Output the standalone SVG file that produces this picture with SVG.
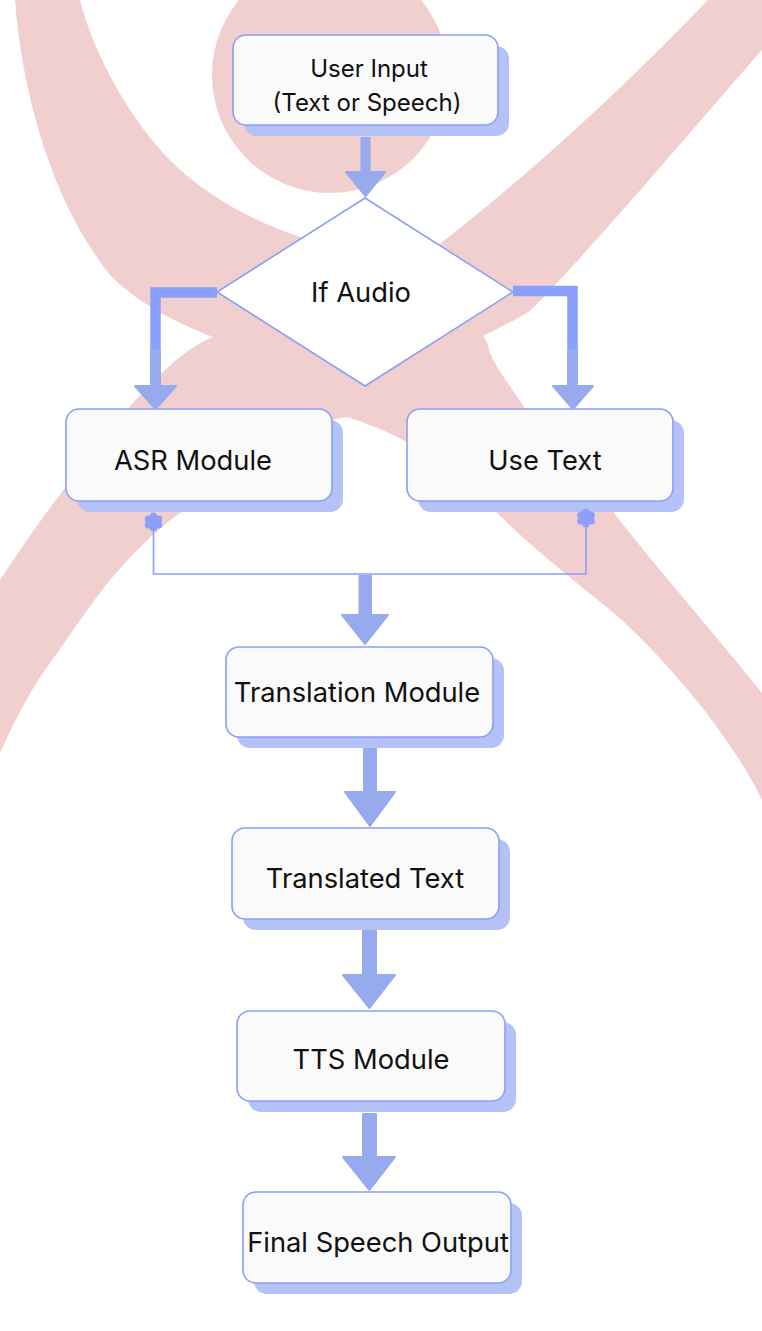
<svg xmlns="http://www.w3.org/2000/svg" width="762" height="1331" viewBox="0 0 762 1331">
<style>
.bg{fill:#f1cfcf;stroke:none}
.box{fill:#fafafa;stroke:#8a9ff6;stroke-width:1.6}
.shadow{fill:#b4c2f8;stroke:none}
.dia{fill:#ffffff;stroke:#8a9ff6;stroke-width:1.6}
.lbl{font-family:Inter,"Noto Sans","DejaVu Sans",sans-serif;font-size:27.3px;fill:#111111;text-anchor:middle}
.lbl2{font-family:Inter,"Noto Sans","DejaVu Sans",sans-serif;font-size:24px;fill:#111111;text-anchor:middle}
.arr{fill:#97aaee;stroke:#97aaee;stroke-width:2;stroke-linejoin:round}
.elbow{fill:none;stroke:#8b9ffd;stroke-width:10.5;stroke-linejoin:miter}
.thin{fill:none;stroke:#8b9ffb;stroke-width:1.6}
.flower{fill:#8b9ffb;stroke:none}
</style>
<defs>
<g id="flower">
<circle cx="0" cy="0" r="6"/>
<circle cx="0" cy="-6" r="3.6"/>
<circle cx="5.2" cy="-3" r="3.6"/>
<circle cx="5.2" cy="3" r="3.6"/>
<circle cx="0" cy="6" r="3.6"/>
<circle cx="-5.2" cy="3" r="3.6"/>
<circle cx="-5.2" cy="-3" r="3.6"/>
</g>
</defs>
<rect x="0" y="0" width="762" height="1331" fill="#ffffff"/>
<g id="background">
<circle class="bg" cx="330" cy="75" r="118"/>
<path class="bg" d="M15,-5 L15,0 C22,90 50,200 110,275 C140,305 175,322 213,337 C260,358 300,405 346,417 C375,425 440,450 494,510 C540,555 580,585 614,613 C650,645 690,690 714,723 C735,752 750,775 762,800 L770,800 L770,690 L762,693 C720,640 650,560 614,513 C585,475 545,440 524,407 C505,378 490,360 488,345 C470,300 380,255 300,237 C250,220 205,195 170,160 C135,125 95,60 80,0 L80,-5 Z"/>
<path class="bg" d="M708,-5 L708,0 C650,60 560,150 441,243 C380,290 280,320 213,337 C180,350 150,385 133,403 C110,430 90,455 66,487 C40,520 20,550 0,580 L-10,580 L-10,753 L0,753 C15,720 30,690 50,663 C70,635 90,605 110,580 C130,557 155,530 180,513 C220,485 270,450 305,433 C320,425 335,418 346,417 C400,400 450,350 495,330 C510,322 520,318 531,310 C600,240 700,120 762,50 L770,50 L770,-5 Z"/>
</g>
<g id="node-user-input">
<rect class="shadow" x="244" y="46" width="265" height="90" rx="13"/>
<rect class="box" x="233" y="35" width="265" height="90" rx="13"/>
<text class="lbl2" x="369" y="77">User Input</text>
<text class="lbl2" x="367" y="111">(Text or Speech)</text>
</g>
<g id="node-if-audio">
<polygon class="dia" points="365,198 513,292 365,386 217,292"/>
<text class="lbl" x="361" y="302">If Audio</text>
</g>
<g id="node-asr">
<rect class="shadow" x="77" y="420" width="266" height="92" rx="13"/>
<rect class="box" x="66" y="409" width="266" height="92" rx="13"/>
<text class="lbl" x="193" y="470">ASR Module</text>
</g>
<g id="node-use-text">
<rect class="shadow" x="418" y="420" width="266" height="92" rx="13"/>
<rect class="box" x="407" y="409" width="266" height="92" rx="13"/>
<text class="lbl" x="545" y="470">Use Text</text>
</g>
<g id="node-translation">
<rect class="shadow" x="237" y="658" width="267" height="90" rx="13"/>
<rect class="box" x="226" y="647" width="267" height="90" rx="13"/>
<text class="lbl" x="357" y="702">Translation Module</text>
</g>
<g id="node-translated">
<rect class="shadow" x="243" y="839" width="267" height="91" rx="13"/>
<rect class="box" x="232" y="828" width="267" height="91" rx="13"/>
<text class="lbl" x="365" y="888">Translated Text</text>
</g>
<g id="node-tts">
<rect class="shadow" x="248" y="1022" width="268" height="90" rx="13"/>
<rect class="box" x="237" y="1011" width="268" height="90" rx="13"/>
<text class="lbl" x="371" y="1069">TTS Module</text>
</g>
<g id="node-final">
<rect class="shadow" x="254" y="1203" width="268" height="91" rx="13"/>
<rect class="box" x="243" y="1192" width="268" height="91" rx="13"/>
<text class="lbl" x="378" y="1252">Final Speech Output</text>
</g>
<g id="connectors">
<path class="arr" d="M361.5,138 H369.5 V172 H385 L365.5,196 L346,172 H361.5 Z"/>
<path class="elbow" d="M217,292.5 H155.5 V351"/>
<path class="arr" d="M151,350 H160 V386 H176 L155.5,409 L135,386 H151 Z"/>
<path class="elbow" d="M513,291 H572.5 V351"/>
<path class="arr" d="M568,350 H577 V386 H593 L573,409 L553,386 H568 Z"/>
<path class="thin" d="M153.5,522 V574 H586 V518"/>
<use class="flower" href="#flower" x="153.5" y="522"/>
<use class="flower" href="#flower" x="586" y="518"/>
<path class="arr" d="M359.5,576 H371 V615 H388 L365,644 L342,615 H359.5 Z"/>
<path class="arr" d="M364,749 H376 V792 H395 L370,826 L345,792 H364 Z"/>
<path class="arr" d="M363,931 H376 V975 H395 L369.5,1008 L343,975 H363 Z"/>
<path class="arr" d="M363,1114 H376 V1157 H395 L369.5,1190 L343,1157 H363 Z"/>
</g>
</svg>
